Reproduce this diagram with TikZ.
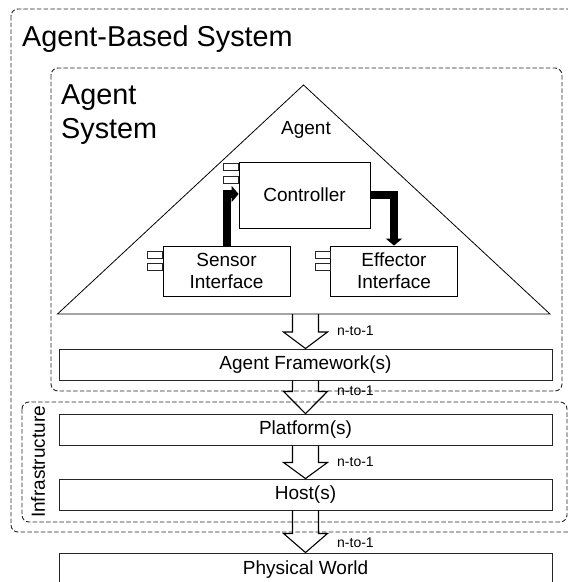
\documentclass[tikz,border=0pt]{standalone}
\usepackage{fontspec}
\setmainfont{Liberation Sans}
\usetikzlibrary{arrows.meta}
\newcommand\fbig{\fontsize{28.8}{34}\selectfont}
\newcommand\fmid{\fontsize{19}{22}\selectfont}
\newcommand\fsml{\fontsize{14}{16}\selectfont}
\newcommand\hollowarrow[4]{%
  \draw[blk] ([xshift=-13pt]#1) -- ([xshift=-13pt,yshift=-#2pt]#1)
    -- ([xshift=-22pt,yshift=-#2pt]#1) -- (#3)
    -- ([xshift=22pt,yshift=-#2pt]#1) -- ([xshift=13pt,yshift=-#2pt]#1)
    -- ([xshift=13pt]#1);}
\begin{document}
\begin{tikzpicture}[x=1pt,y=-1pt,
  grp/.style={draw=black!85, line width=0.9pt, dash pattern=on 4.5pt off 2.2pt, rounded corners=7pt},
  layer/.style={draw=black!85, line width=0.9pt, minimum width=493pt, minimum height=31pt, inner sep=0pt, font=\fmid},
  comp/.style={draw=black, line width=0.8pt, minimum width=127pt, minimum height=50pt, inner sep=0pt, align=center, font=\fmid},
  icon/.style={draw=black!85, line width=0.6pt},
  blk/.style={draw=black, line width=1.1pt, line join=miter},
  fat/.style={draw=black, line width=8pt, line join=miter, -{Triangle[length=7pt,width=16pt]}},
  lbl/.style={font=\fsml, anchor=west, inner sep=0pt}]
\useasboundingbox (0,0) rectangle (568,582);
\clip (0,0) rectangle (568,582);
\fill[white] (0,0) rectangle (568,582);

% group boxes
\draw[grp] (11,9) rectangle (590,532);
\draw[grp] (51,68) rectangle (562,391);
\draw[grp] (22,402) rectangle (567,522);
\node[font=\fbig, anchor=base west, inner sep=0pt] (abs) at (22,46) {Agent-Based System};
\node[font=\fbig, anchor=base west, inner sep=0pt] (asA) at (61,104) {Agent};
\node[font=\fbig, anchor=base west, inner sep=0pt] (asS) at (61,138) {System};
\node[font=\fmid, rotate=90, inner sep=0pt] (infra) at (38,462) {Infrastructure};

% agent triangle
\coordinate (tl) at (57.5,314);
\coordinate (tr) at (550,314);
\coordinate (tp) at (303.5,85);
\coordinate (tb) at (305.5,314);
\draw[line width=0.8pt, line join=miter] (tl) -- (tp) -- (tr) -- cycle;
\node[font=\fmid, anchor=base, inner sep=0pt] (agent) at (306,134) {Agent};

% components
\node[comp, minimum width=131pt, minimum height=66pt] (ctrl) at (304.5,195) {Controller};
\node[comp] (sens) at (226.5,271) {Sensor\\Interface};
\node[comp] (effe) at (394,271) {Effector\\Interface};
\draw[icon] ([xshift=-15pt,yshift=-2pt]ctrl.north west) rectangle ++(15,7);
\draw[icon] ([xshift=-15pt,yshift=-15pt]ctrl.north west) rectangle ++(15,7);
\draw[icon] ([xshift=-15pt,yshift=-6pt]sens.north west) rectangle ++(15,6.5);
\draw[icon] ([xshift=-15pt,yshift=-18pt]sens.north west) rectangle ++(15,6.5);
\draw[icon] ([xshift=-15pt,yshift=-6pt]effe.north west) rectangle ++(15,6.5);
\draw[icon] ([xshift=-15pt,yshift=-18pt]effe.north west) rectangle ++(15,6.5);
\draw[fat] (sens.north) |- ([yshift=1pt]ctrl.west);
\draw[fat] (ctrl.east) -| (effe.north);

% layers
\node[layer] (af) at (305.5,364.5) {Agent Framework(s)};
\node[layer] (plat) at (305.5,429.5) {Platform(s)};
\node[layer] (host) at (305.5,494.5) {Host(s)};
\node[layer, minimum height=34pt] (phys) at (305.5,570) {Physical World};

% hollow arrows
\hollowarrow{tb}{18}{af.north}{}
\hollowarrow{af.south}{11}{plat.north}{}
\hollowarrow{plat.south}{17}{host.north}{}
\hollowarrow{host.south}{23}{phys.north}{}
\node[lbl] (l1) at (337,331) {n-to-1};
\node[lbl] (l2) at (337,391) {n-to-1};
\node[lbl] (l3) at (337,462) {n-to-1};
\node[lbl] (l4) at (337,543) {n-to-1};
\end{tikzpicture}
\end{document}
